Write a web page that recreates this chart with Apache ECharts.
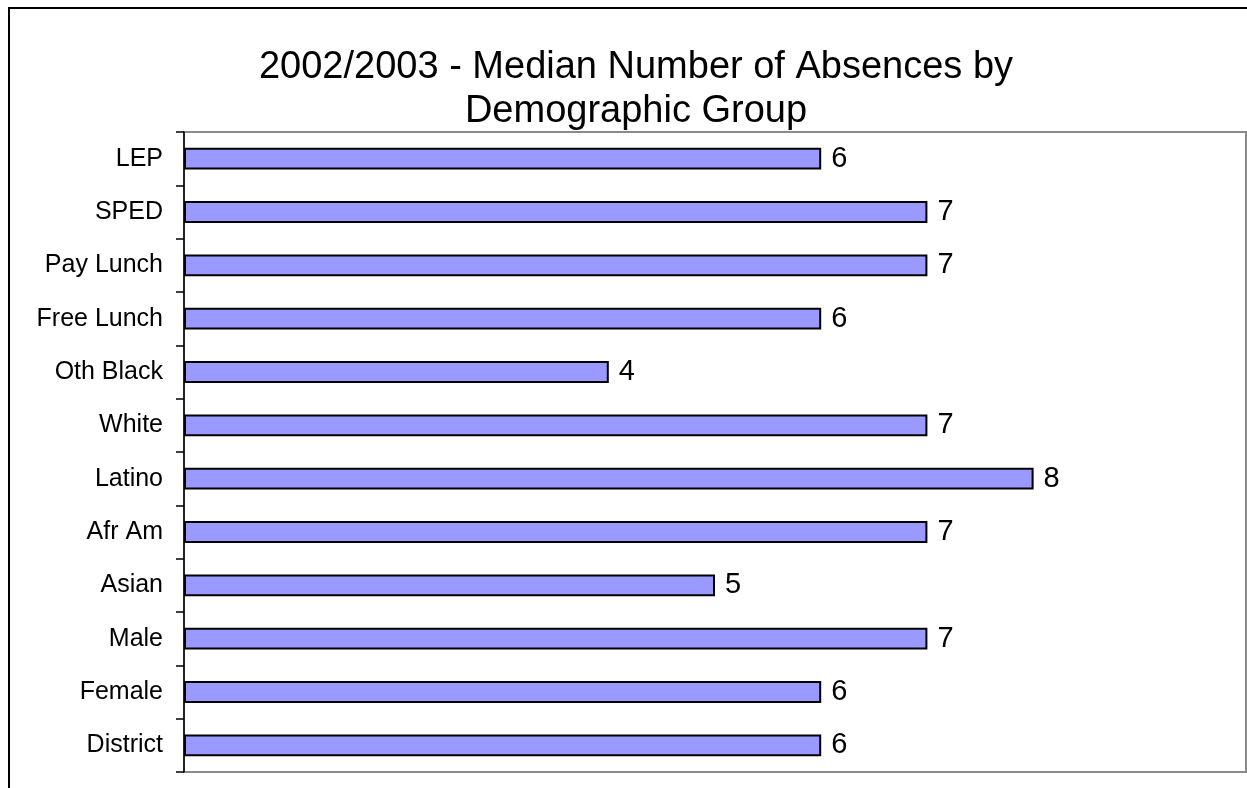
<!DOCTYPE html>
<html>
<head>
<meta charset="utf-8">
<title>Median Number of Absences</title>
<script src="https://cdn.jsdelivr.net/npm/echarts@6/dist/echarts.min.js"></script>
<style>
  html, body { margin: 0; padding: 0; background: #fff; }
  #chart { width: 1247px; height: 788px; }
</style>
</head>
<body>
<div id="chart"></div>
<script>
// categories listed top to bottom as in the picture
const categories = ['LEP', 'SPED', 'Pay Lunch', 'Free Lunch', 'Oth Black', 'White',
  'Latino', 'Afr Am', 'Asian', 'Male', 'Female', 'District']
const medianAbsences = [6, 7, 7, 6, 4, 7, 8, 7, 5, 7, 6, 6]

const font = "'Liberation Sans', Arial, sans-serif"

const chart = echarts.init(document.getElementById('chart'))

chart.setOption({
  backgroundColor: '#fff',
  animation: false,
  title: {
    text: '2002/2003 - Median Number of Absences by\nDemographic Group',
    left: 636,
    textAlign: 'center',
    top: 46,
    padding: 0,
    textStyle: {
      fontFamily: font,
      fontSize: 38,
      fontWeight: 'normal',
      color: '#000',
      lineHeight: 44
    }
  },
  // outer frame of the chart area
  graphic: [{
    type: 'rect',
    shape: { x: 9, y: 8, width: 1400, height: 900 },
    style: { fill: 'none', stroke: '#000', lineWidth: 2 },
    silent: true,
    z: 0
  }],
  grid: {
    left: 184,
    right: 1,
    top: 132,
    bottom: 16,
    show: true,
    borderColor: '#8a8a8a',
    borderWidth: 2,
    backgroundColor: '#fff'
  },
  xAxis: {
    type: 'value',
    min: 0,
    max: 10,
    axisLine: { show: false },
    axisTick: { show: false },
    axisLabel: { show: false },
    splitLine: { show: false }
  },
  yAxis: {
    type: 'category',
    inverse: true,
    data: categories,
    axisLine: { show: true, lineStyle: { color: '#000', width: 1.5 } },
    axisTick: { show: true, length: 8, lineStyle: { color: '#000', width: 1.5 } },
    axisLabel: {
      fontFamily: font,
      fontSize: 25,
      color: '#000',
      margin: 21
    },
    z: 5
  },
  series: [{
    type: 'bar',
    data: medianAbsences,
    barWidth: '41%',
    itemStyle: {
      color: '#9999ff',
      borderColor: '#000',
      borderWidth: 2
    },
    label: {
      show: true,
      position: 'right',
      distance: 10,
      fontFamily: font,
      fontSize: 29,
      color: '#000'
    }
  }]
})
</script>
</body>
</html>
